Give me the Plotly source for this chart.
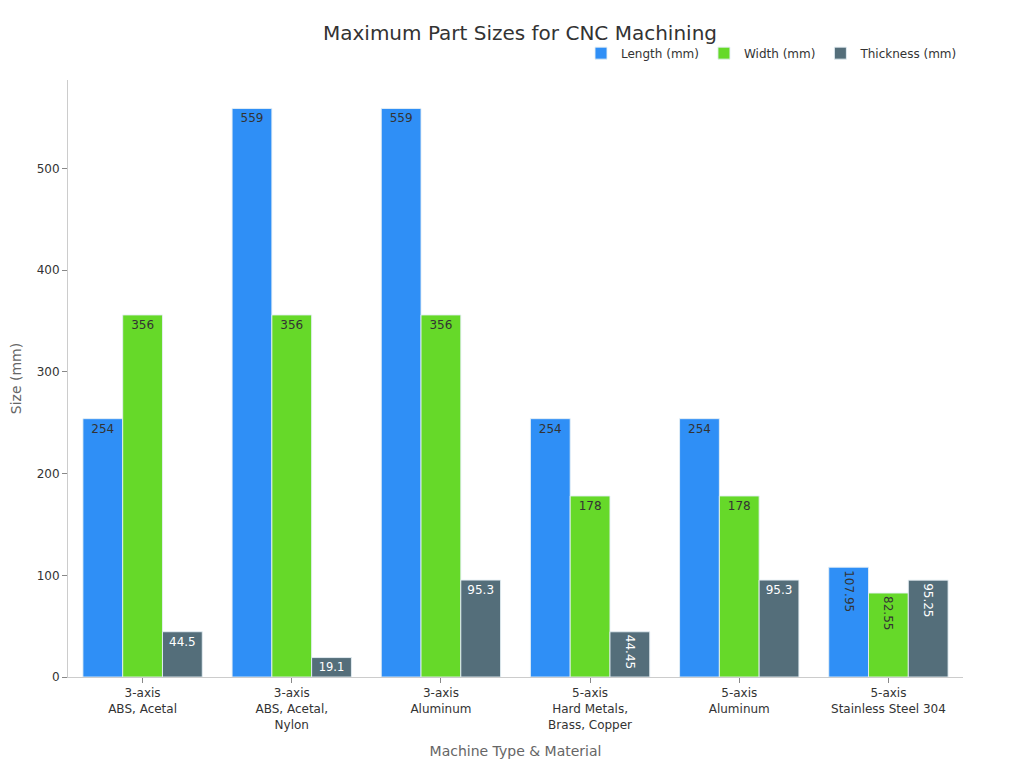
import plotly.graph_objects as go

categories = ["3-axis<br>ABS, Acetal", "3-axis<br>ABS, Acetal,<br>Nylon", "3-axis<br>Aluminum",
              "5-axis<br>Hard Metals,<br>Brass, Copper", "5-axis<br>Aluminum", "5-axis<br>Stainless Steel 304"]
length_mm = [254, 559, 559, 254, 254, 107.95]
width_mm = [356, 356, 356, 178, 178, 82.55]
thickness_mm = [44.5, 19.1, 95.3, 44.45, 95.3, 95.25]
series_names = ["Length (mm)", "Width (mm)", "Thickness (mm)"]
colors = ["#2f8ff6", "#66d929", "#546e7a"]
text_colors = ["#333333", "#333333", "#ffffff"]

fig = go.Figure()
for name, vals, col, tcol in zip(series_names, [length_mm, width_mm, thickness_mm], colors, text_colors):
    fig.add_trace(go.Bar(
        x=categories, y=vals, name=name, text=[str(v) for v in vals],
        textposition="inside", insidetextanchor="end",
        marker=dict(color=col, line=dict(color="rgba(230,240,245,0.9)", width=1)),
        textfont=dict(size=12, color=tcol),
    ))

fig.update_layout(
    width=1024, height=768,
    font=dict(family="DejaVu Sans", color="#333333", size=12),
    title=dict(text="Maximum Part Sizes for CNC Machining", x=0.5, xanchor="center",
               y=0.967, yanchor="middle", font=dict(size=20, color="#333333")),
    barmode="group", bargap=0.2, bargroupgap=0,
    plot_bgcolor="white", paper_bgcolor="white",
    margin=dict(l=60, r=69, t=72, b=99),
    legend=dict(orientation="h", x=1, xanchor="right", y=1.045, yanchor="middle",
                font=dict(size=12, color="#333333")),
    xaxis=dict(title=dict(text="Machine Type & Material", font=dict(size=14, color="#666666")),
               showline=True, linecolor="#cccccc", ticks="outside", tickcolor="#888888",
               ticklen=5, showgrid=False, automargin=False),
    yaxis=dict(title=dict(text="Size (mm)", font=dict(size=14, color="#666666")),
               range=[0, 587], showline=True, linecolor="#cccccc", ticks="outside",
               tickcolor="#888888", ticklen=5, showgrid=False, zeroline=False,
               dtick=100, automargin=False),
)

fig.write_html("out.html")
